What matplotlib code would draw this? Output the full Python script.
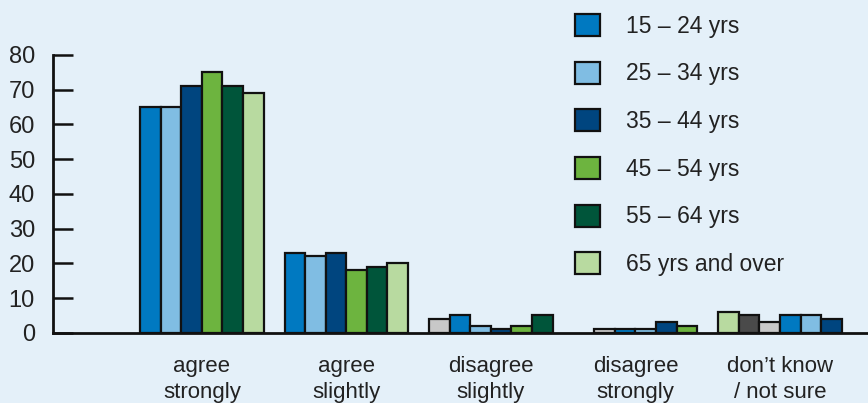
import matplotlib.pyplot as plt
from matplotlib.patches import Patch

# survey responses by age group (percent)
categories = ["agree\nstrongly", "agree\nslightly", "disagree\nslightly",
              "disagree\nstrongly", "don\u2019t know\n/ not sure"]
age_groups = ["15 \u2013 24 yrs", "25 \u2013 34 yrs", "35 \u2013 44 yrs",
              "45 \u2013 54 yrs", "55 \u2013 64 yrs", "65 yrs and over"]

agree_strongly = [65, 65, 71, 75, 71, 69]
agree_slightly = [23, 22, 23, 18, 19, 20]
disagree_slightly = [4, 5, 2, 1, 2, 5]
disagree_strongly = [0, 1, 1, 1, 3, 2]
dont_know = [6, 5, 3, 5, 5, 4]

yticks = [0, 10, 20, 30, 40, 50, 60, 70, 80]

BLUE = "#0079c1"
LBLUE = "#80bde3"
DBLUE = "#00457f"
GREEN = "#6db43f"
DGREEN = "#00553a"
LGREEN = "#b8daa0"
LGREY = "#c8c8c8"
DGREY = "#4a4a4a"
series_colors = [BLUE, LBLUE, DBLUE, GREEN, DGREEN, LGREEN]

# fill colours used for each bar of each group
group_colors = [
    series_colors,
    series_colors,
    [LGREY, BLUE, LBLUE, DBLUE, GREEN, DGREEN],
    [LGREY, LGREY, BLUE, LBLUE, DBLUE, GREEN],
    [LGREEN, DGREY, LGREY, BLUE, LBLUE, DBLUE],
]
groups = [agree_strongly, agree_slightly, disagree_slightly,
          disagree_strongly, dont_know]

BG = "#e4f0f9"
TXT = "#222222"
plt.rcParams["font.family"] = ["Liberation Sans", "DejaVu Sans"]

fig = plt.figure(figsize=(8.68, 4.03), dpi=100, facecolor=BG)
ax = fig.add_axes([0.061, 0.174, 0.939, 0.69])
ax.set_facecolor(BG)

width = 0.142
n = len(age_groups)
for gi, (vals, cols) in enumerate(zip(groups, group_colors)):
    for i, (v, c) in enumerate(zip(vals, cols)):
        if v <= 0:
            continue
        x = gi + (i - (n - 1) / 2) * width
        ax.bar(x, v, width=width, color=c, edgecolor="#111111",
               linewidth=1.6, zorder=3)

ax.set_xlim(-1.031, 4.609)
ax.set_ylim(0, 80)
ax.set_yticks(yticks)
ax.set_yticklabels([str(t) for t in yticks], fontsize=17, color=TXT)
ax.tick_params(axis="y", direction="in", length=14.5, width=1.8, pad=13,
               color="#111111")
ax.set_xticks(range(len(categories)))
ax.set_xticklabels(categories, fontsize=16, color=TXT, linespacing=1.3)
ax.tick_params(axis="x", length=0, pad=16.5)

for side in ["top", "right"]:
    ax.spines[side].set_visible(False)
for side in ["left", "bottom"]:
    ax.spines[side].set_linewidth(2)
    ax.spines[side].set_color("#111111")
ax.spines["bottom"].set_zorder(4)

handles = [Patch(facecolor=c, edgecolor="#111111", linewidth=1.6)
           for c in series_colors]
leg = fig.legend(handles, age_groups, loc="upper left",
                 bbox_to_anchor=(0.652, 0.988), frameon=False, fontsize=16.5,
                 handlelength=1.1, handleheight=1.1, handletextpad=1.1,
                 labelspacing=1.04, borderaxespad=0)
for t in leg.get_texts():
    t.set_color(TXT)

fig.savefig("out.png", dpi=100, facecolor=BG)
